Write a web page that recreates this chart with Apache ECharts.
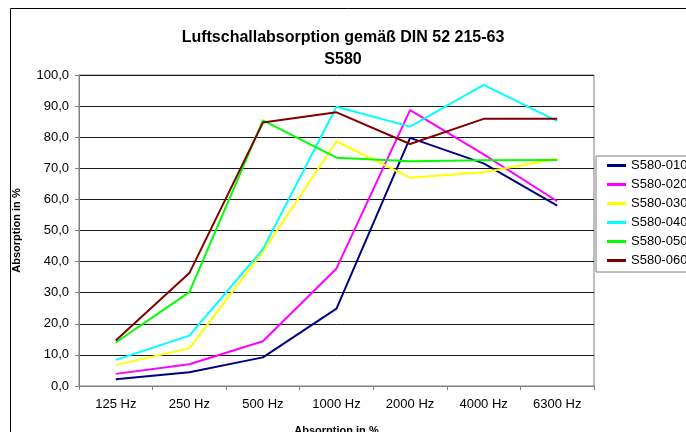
<!DOCTYPE html>
<html>
<head>
<meta charset="utf-8">
<script src="https://cdn.jsdelivr.net/npm/echarts@6/dist/echarts.min.js"></script>
<style>
  html, body { margin: 0; padding: 0; background: #fff; }
  #chart { width: 686px; height: 432px; }
</style>
</head>
<body>
<div id="chart"></div>
<script>
// data
const categories = ['125 Hz', '250 Hz', '500 Hz', '1000 Hz', '2000 Hz', '4000 Hz', '6300 Hz']
const seriesNames = ['S580-010', 'S580-020', 'S580-030', 'S580-040', 'S580-050', 'S580-060']
const s010 = [2.2, 4.4, 9.2, 24.9, 79.8, 71.6, 58.0]
const s020 = [3.9, 7.0, 14.4, 37.8, 88.7, 74.5, 59.4]
const s030 = [6.8, 12.1, 43.2, 78.7, 67.0, 68.7, 73.1]
const s040 = [8.4, 16.2, 44.0, 89.8, 83.4, 96.8, 85.2]
const s050 = [14.0, 30.2, 85.4, 73.4, 72.3, 72.6, 72.7]
const s060 = [14.6, 36.3, 84.7, 88.0, 77.8, 85.9, 85.9]
const colors = ['#000080', '#ff00ff', '#ffff00', '#00ffff', '#00ff00', '#800000']

const font = 'Liberation Sans, Arial, sans-serif'
const allData = [s010, s020, s030, s040, s050, s060]

var myChart = echarts.init(document.getElementById('chart'));
myChart.setOption({
  animation: false,
  color: colors,
  title: {
    text: 'Luftschallabsorption gemäß DIN 52 215-63\nS580',
    left: 'center',
    top: 22,
    textStyle: {fontFamily: font, fontSize: 16, fontWeight: 'bold', color: '#000', lineHeight: 22}
  },
  legend: {
    orient: 'vertical',
    left: 596,
    top: 156,
    padding: [2, 40, 4, 11],
    borderColor: '#808080',
    borderWidth: 1,
    itemGap: 4,
    itemWidth: 19,
    itemHeight: 3,
    icon: 'rect',
    textStyle: {fontFamily: font, fontSize: 13, color: '#000', lineHeight: 15},
    data: seriesNames
  },
  grid: {
    left: 79, right: 92, top: 75, bottom: 46,
    containLabel: false,
    outerBoundsMode: 'none',
    show: true,
    borderColor: '#808080',
    borderWidth: 1
  },
  xAxis: {
    type: 'category',
    data: categories,
    boundaryGap: true,
    name: 'Absorption in %',
    nameLocation: 'middle',
    nameGap: 39,
    nameTextStyle: {fontFamily: font, fontSize: 11, fontWeight: 'bold', color: '#000'},
    axisLine: {lineStyle: {color: '#808080', width: 1}},
    axisTick: {show: true, alignWithLabel: false, length: 4, lineStyle: {color: '#808080'}},
    axisLabel: {fontFamily: font, fontSize: 13, color: '#000', margin: 12}
  },
  yAxis: {
    type: 'value',
    min: 0,
    max: 100,
    interval: 10,
    name: 'Absorption in %',
    nameLocation: 'middle',
    nameGap: 57,
    nameTextStyle: {fontFamily: font, fontSize: 11, fontWeight: 'bold', color: '#000'},
    axisLine: {show: true, lineStyle: {color: '#808080', width: 1}},
    axisTick: {show: true, length: 4, lineStyle: {color: '#808080'}},
    splitLine: {lineStyle: {color: '#1a1a1a', width: 1}},
    axisLabel: {
      fontFamily: font, fontSize: 13, color: '#000', margin: 10,
      formatter: v => v.toFixed(1).replace('.', ',')
    }
  },
  graphic: [
    {
      type: 'rect',
      shape: {x: 10.5, y: 8.5, width: 700, height: 500},
      style: {fill: null, stroke: '#000', lineWidth: 1},
      silent: true,
      z: -1
    }
  ],
  series: seriesNames.map((name, i) => ({
    name: name,
    type: 'line',
    data: allData[i],
    symbol: 'none',
    lineStyle: {width: 2, color: colors[i]},
    itemStyle: {color: colors[i]}
  }))
})
</script>
</body>
</html>
